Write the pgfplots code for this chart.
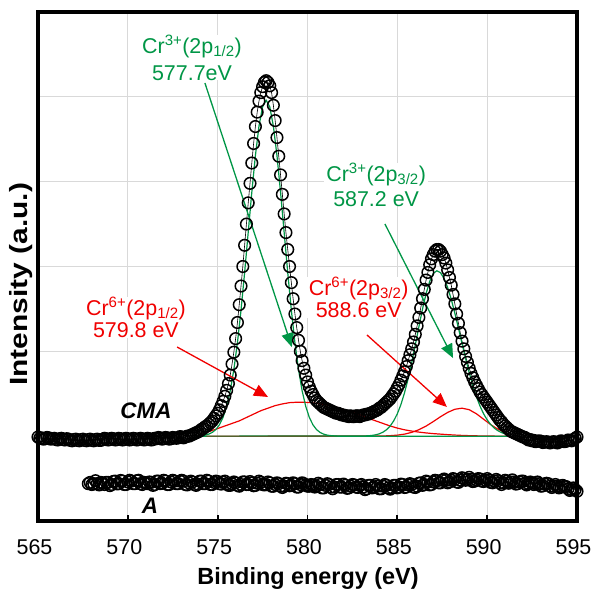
\documentclass[border=0pt]{standalone}
\usepackage{fontspec}
\setmainfont{Liberation Sans}
\usepackage{graphicx}
\usepackage{pgfplots}
\pgfplotsset{compat=1.18}
\usetikzlibrary{arrows.meta}
\definecolor{fitgreen}{RGB}{0,150,70}
\definecolor{fitred}{RGB}{240,0,0}
\begin{document}
\begin{tikzpicture}
\begin{axis}[
 scale only axis, width=539bp, height=509bp,
 xmin=565, xmax=595, ymin=0, ymax=6,
 xtick={565,570,...,595}, ytick={1,2,3,4,5}, yticklabels={},
 grid=major, major grid style={draw=black!15, line width=1.1bp},
 axis line style={line width=3bp},
 tick align=inside, xtick pos=bottom, major tick length=6bp,
 xtick style={line width=1.8bp, black},
 ytick style={draw=none},
 xticklabel style={font=\fontsize{21.5}{24}\selectfont, /pgf/number format/assume math mode=true, anchor=center, yshift=-26.5bp, xshift=-3.5bp},
 xlabel={Binding energy (eV)},
 xlabel style={font=\fontsize{23.5}{26}\selectfont\bfseries, at={(axis description cs:0.501,-0.112)}, anchor=center},
 ylabel={\scalebox{1.2}[1]{Intensity (a.u.)}},
 ylabel style={font=\fontsize{25}{28}\selectfont\bfseries, at={(axis description cs:-0.0316,0.465)}, anchor=center},
 clip=false,
]
% sample A
\addplot[black, line width=0.6bp, mark=o, mark size=5.8bp, mark options={line width=1.5bp}] table {
567.8 0.44
567.9 0.455
568.0 0.43
568.1 0.44
568.2 0.475
568.3 0.44
568.4 0.425
568.5 0.455
568.6 0.445
568.7 0.43
568.8 0.455
568.9 0.455
569.0 0.417
569.1 0.43
569.2 0.467
569.3 0.47
569.4 0.437
569.5 0.44
569.6 0.478
569.7 0.47
569.8 0.43
569.9 0.43
570.0 0.46
570.1 0.48
570.2 0.47
570.3 0.44
570.4 0.44
570.5 0.475
570.6 0.48
570.7 0.44
570.8 0.43
570.9 0.455
571.0 0.45
571.1 0.44
571.2 0.46
571.3 0.455
571.4 0.42
571.5 0.43
571.6 0.47
571.7 0.47
571.8 0.44
571.9 0.445
572.0 0.48
572.1 0.47
572.2 0.43
572.3 0.43
572.4 0.46
572.5 0.48
572.6 0.47
572.7 0.44
572.8 0.44
572.9 0.47
573.0 0.48
573.1 0.47
573.2 0.43
573.3 0.425
573.4 0.45
573.5 0.47
573.6 0.46
573.7 0.43
573.8 0.42
573.9 0.435
574.0 0.47
574.1 0.47
574.2 0.44
574.3 0.44
574.4 0.48
574.5 0.47
574.6 0.43
574.7 0.43
574.8 0.455
574.9 0.47
575.0 0.465
575.1 0.44
575.2 0.435
575.3 0.46
575.4 0.47
575.5 0.44
575.6 0.42
575.7 0.42
575.8 0.44
575.9 0.46
576.0 0.45
576.1 0.42
576.2 0.41
576.3 0.43
576.4 0.46
576.5 0.46
576.6 0.43
576.7 0.43
576.8 0.465
576.9 0.45
577.0 0.415
577.1 0.42
577.2 0.445
577.3 0.47
577.4 0.455
577.5 0.43
577.6 0.425
577.7 0.43
577.8 0.46
577.9 0.45
578.0 0.41
578.1 0.41
578.2 0.43
578.3 0.45
578.4 0.44
578.5 0.41
578.6 0.395
578.7 0.41
578.8 0.445
578.9 0.44
579.0 0.415
579.1 0.42
579.2 0.45
579.3 0.44
579.4 0.40
579.5 0.40
579.6 0.43
579.7 0.45
579.8 0.44
579.9 0.42
580.0 0.41
580.1 0.41
580.2 0.43
580.3 0.425
580.4 0.40
580.5 0.41
580.6 0.445
580.7 0.43
580.8 0.39
580.9 0.39
581.0 0.42
581.1 0.44
581.2 0.43
581.3 0.40
581.4 0.38
581.5 0.40
581.6 0.43
581.7 0.43
581.8 0.40
581.9 0.40
582.0 0.435
582.1 0.42
582.2 0.385
582.3 0.39
582.4 0.41
582.5 0.43
582.6 0.425
582.7 0.40
582.8 0.395
582.9 0.42
583.0 0.43
583.1 0.40
583.2 0.37
583.3 0.38
583.4 0.42
583.5 0.42
583.6 0.39
583.7 0.40
583.8 0.43
583.9 0.41
584.0 0.38
584.1 0.38
584.2 0.41
584.3 0.43
584.4 0.42
584.5 0.39
584.6 0.375
584.7 0.39
584.8 0.42
584.9 0.42
585.0 0.39
585.1 0.40
585.2 0.435
585.3 0.43
585.4 0.395
585.5 0.40
585.6 0.425
585.7 0.44
585.8 0.43
585.9 0.40
586.0 0.395
586.1 0.41
586.2 0.445
586.3 0.45
586.4 0.42
586.5 0.43
586.6 0.47
586.7 0.46
586.8 0.425
586.9 0.43
587.0 0.46
587.1 0.48
587.2 0.475
587.3 0.45
587.4 0.45
587.5 0.48
587.6 0.495
587.7 0.48
587.8 0.45
587.9 0.46
588.0 0.48
588.1 0.50
588.2 0.49
588.3 0.46
588.4 0.455
588.5 0.48
588.6 0.51
588.7 0.50
588.8 0.48
588.9 0.49
589.0 0.515
589.1 0.49
589.2 0.465
589.3 0.47
589.4 0.485
589.5 0.50
589.6 0.495
589.7 0.47
589.8 0.465
589.9 0.48
590.0 0.50
590.1 0.48
590.2 0.455
590.3 0.45
590.4 0.47
590.5 0.49
590.6 0.475
590.7 0.45
590.8 0.43
590.9 0.45
591.0 0.48
591.1 0.47
591.2 0.445
591.3 0.46
591.4 0.485
591.5 0.46
591.6 0.435
591.7 0.44
591.8 0.46
591.9 0.47
592.0 0.47
592.1 0.44
592.2 0.425
592.3 0.44
592.4 0.46
592.5 0.45
592.6 0.43
592.7 0.44
592.8 0.46
592.9 0.44
593.0 0.41
593.1 0.415
593.2 0.435
593.3 0.445
593.4 0.44
593.5 0.41
593.6 0.395
593.7 0.41
593.8 0.43
593.9 0.41
594.0 0.39
594.1 0.40
594.2 0.42
594.3 0.41
594.4 0.405
594.5 0.38
594.6 0.36
594.7 0.37
594.8 0.39
594.9 0.37
595.0 0.35
};
% sample CMA
\addplot[black, line width=0.6bp, mark=o, mark size=5.8bp, mark options={line width=1.5bp}] table {
565.0 0.99
565.1 0.975
565.2 0.98
565.3 0.965
565.4 0.97
565.5 0.985
565.6 0.98
565.7 0.965
565.8 0.97
565.9 0.975
566.0 0.96
566.1 0.955
566.2 0.97
566.3 0.975
566.4 0.96
566.5 0.955
566.6 0.97
566.7 0.965
566.8 0.95
566.9 0.945
567.0 0.96
567.1 0.965
567.2 0.95
567.3 0.945
567.4 0.96
567.5 0.965
567.6 0.95
567.7 0.945
567.8 0.96
567.9 0.965
568.0 0.95
568.1 0.945
568.2 0.96
568.3 0.965
568.4 0.95
568.5 0.95
568.6 0.96
568.7 0.975
568.8 0.97
568.9 0.955
569.0 0.96
569.1 0.975
569.2 0.97
569.3 0.955
569.4 0.96
569.5 0.975
569.6 0.97
569.7 0.955
569.8 0.96
569.9 0.975
570.0 0.97
570.1 0.955
570.2 0.96
570.3 0.975
570.4 0.97
570.5 0.955
570.6 0.96
570.7 0.975
570.8 0.97
570.9 0.955
571.0 0.96
571.1 0.975
571.2 0.97
571.3 0.955
571.4 0.96
571.5 0.975
571.6 0.97
571.7 0.985
571.8 0.98
571.9 0.965
572.0 0.97
572.1 0.985
572.2 0.98
572.3 0.965
572.4 0.97
572.5 0.985
572.6 0.98
572.7 0.975
572.8 0.98
572.9 0.995
573.0 0.99
573.1 0.98
573.2 0.99
573.3 1.00
573.4 1.00
573.5 1.01
573.6 1.02
573.7 1.03
573.8 1.04
573.9 1.05
574.0 1.06
574.1 1.08
574.2 1.09
574.3 1.11
574.4 1.12
574.5 1.14
574.6 1.16
574.7 1.18
574.8 1.21
574.9 1.24
575.0 1.27
575.1 1.31
575.2 1.36
575.3 1.41
575.4 1.47
575.5 1.54
575.6 1.62
575.7 1.72
575.8 1.85
575.9 1.99
576.0 2.15
576.1 2.34
576.2 2.55
576.3 2.77
576.4 3.00
576.5 3.25
576.6 3.50
576.7 3.75
576.8 3.98
576.9 4.22
577.0 4.45
577.1 4.65
577.2 4.82
577.3 4.95
577.4 5.05
577.5 5.12
577.6 5.17
577.7 5.19
577.8 5.17
577.9 5.13
578.0 5.05
578.1 4.90
578.2 4.72
578.3 4.52
578.4 4.30
578.5 4.08
578.6 3.85
578.7 3.62
578.8 3.40
578.9 3.20
579.0 3.00
579.1 2.81
579.2 2.62
579.3 2.44
579.4 2.28
579.5 2.13
579.6 2.00
579.7 1.89
579.8 1.80
579.9 1.72
580.0 1.64
580.1 1.58
580.2 1.53
580.3 1.49
580.4 1.45
580.5 1.42
580.6 1.40
580.7 1.38
580.8 1.36
580.9 1.34
581.0 1.33
581.1 1.32
581.2 1.31
581.3 1.30
581.4 1.29
581.5 1.28
581.6 1.27
581.7 1.27
581.8 1.26
581.9 1.25
582.0 1.25
582.1 1.24
582.2 1.24
582.3 1.23
582.4 1.24
582.5 1.23
582.6 1.23
582.7 1.24
582.8 1.24
582.9 1.23
583.0 1.24
583.1 1.25
583.2 1.25
583.3 1.26
583.4 1.26
583.5 1.27
583.6 1.28
583.7 1.29
583.8 1.30
583.9 1.31
584.0 1.33
584.1 1.34
584.2 1.36
584.3 1.38
584.4 1.40
584.5 1.42
584.6 1.44
584.7 1.47
584.8 1.50
584.9 1.53
585.0 1.57
585.1 1.61
585.2 1.66
585.3 1.71
585.4 1.76
585.5 1.82
585.6 1.89
585.7 1.96
585.8 2.03
585.9 2.11
586.0 2.20
586.1 2.30
586.2 2.40
586.3 2.51
586.4 2.62
586.5 2.73
586.6 2.84
586.7 2.93
586.8 3.02
586.9 3.09
587.0 3.14
587.1 3.18
587.2 3.20
587.3 3.20
587.4 3.18
587.5 3.14
587.6 3.10
587.7 3.04
587.8 2.96
587.9 2.87
588.0 2.78
588.1 2.67
588.2 2.56
588.3 2.44
588.4 2.33
588.5 2.22
588.6 2.12
588.7 2.03
588.8 1.94
588.9 1.87
589.0 1.80
589.1 1.74
589.2 1.69
589.3 1.64
589.4 1.60
589.5 1.56
589.6 1.52
589.7 1.49
589.8 1.46
589.9 1.43
590.0 1.40
590.1 1.37
590.2 1.34
590.3 1.31
590.4 1.28
590.5 1.25
590.6 1.22
590.7 1.19
590.8 1.17
590.9 1.14
591.0 1.12
591.1 1.10
591.2 1.08
591.3 1.06
591.4 1.05
591.5 1.04
591.6 1.03
591.7 1.02
591.8 1.01
591.9 1.00
592.0 0.99
592.1 0.985
592.2 0.97
592.3 0.955
592.4 0.96
592.5 0.945
592.6 0.95
592.7 0.935
592.8 0.94
592.9 0.945
593.0 0.94
593.1 0.925
593.2 0.93
593.3 0.935
593.4 0.93
593.5 0.92
593.6 0.93
593.7 0.935
593.8 0.93
593.9 0.92
594.0 0.93
594.1 0.945
594.2 0.94
594.3 0.935
594.4 0.94
594.5 0.955
594.6 0.95
594.7 0.945
594.8 0.96
594.9 0.975
595.0 0.99
};
% background line
\addplot[fitred, line width=1.2bp] coordinates {(573.8,1) (591.1,1)};
% Cr6+ 2p1/2
\addplot[fitred, line width=1.2bp] coordinates {
(573.8,1.00) (574.2,1.03) (574.6,1.06) (575.0,1.09) (575.4,1.12) (575.8,1.15) (576.2,1.18) (576.6,1.22) (577.0,1.26) (577.4,1.30) (577.8,1.33) (578.2,1.36) (578.6,1.38) (579.0,1.395) (579.4,1.40) (579.8,1.40) (580.2,1.395) (580.6,1.385) (581.0,1.37) (581.4,1.35) (581.8,1.33) (582.2,1.30) (582.6,1.275) (583.0,1.245) (583.4,1.21) (583.8,1.18) (584.2,1.15) (584.6,1.12) (585.0,1.095) (585.4,1.075) (585.8,1.06) (586.2,1.048) (586.6,1.038) (587.0,1.03) (587.4,1.024) (587.8,1.018) (588.2,1.013) (588.6,1.009) (589.0,1.006) (589.4,1.004) (589.8,1.002) (590.2,1.001) (591.1,1.000)
};
% Cr6+ 2p3/2
\addplot[fitred, line width=1.2bp] coordinates {
(573.8,1.000) (584.2,1.002) (584.6,1.006) (585.0,1.012) (585.4,1.024) (585.8,1.045) (586.2,1.076) (586.6,1.119) (587.0,1.172) (587.4,1.229) (587.8,1.280) (588.2,1.317) (588.6,1.330) (589.0,1.312) (589.4,1.264) (589.8,1.200) (590.2,1.136) (590.6,1.082) (591.0,1.045) (591.1,1.038)
};
% Cr3+ 2p1/2
\addplot[fitgreen, line width=1.2bp] coordinates {
(573.7,1.000) (573.9,1.003) (574.1,1.006) (574.3,1.012) (574.5,1.024) (574.7,1.044) (574.9,1.078) (575.1,1.135) (575.3,1.222) (575.5,1.352) (575.7,1.536) (575.9,1.784) (576.1,2.101) (576.3,2.486) (576.5,2.928) (576.7,3.402) (576.9,3.875) (577.1,4.308) (577.3,4.655) (577.5,4.882) (577.7,4.960) (577.9,4.882) (578.1,4.655) (578.3,4.308) (578.5,3.875) (578.7,3.402) (578.9,2.928) (579.1,2.486) (579.3,2.101) (579.5,1.784) (579.7,1.536) (579.9,1.352) (580.1,1.222) (580.3,1.135) (580.5,1.078) (580.7,1.044) (580.9,1.024) (581.1,1.012) (581.3,1.006) (581.5,1.003) (581.7,1.000) (591.1,1.000)
};
% Cr3+ 2p3/2
\addplot[fitgreen, line width=1.2bp] coordinates {
(573.8,1.000) (583.2,1.003) (583.4,1.005) (583.6,1.009) (583.8,1.016) (584.0,1.028) (584.2,1.047) (584.4,1.076) (584.6,1.119) (584.8,1.181) (585.0,1.264) (585.2,1.373) (585.4,1.511) (585.6,1.677) (585.8,1.867) (586.0,2.076) (586.2,2.290) (586.4,2.497) (586.6,2.680) (586.8,2.825) (587.0,2.918) (587.2,2.950) (587.4,2.927) (587.6,2.860) (587.8,2.753) (588.0,2.614) (588.2,2.450) (588.4,2.274) (588.6,2.092) (588.8,1.915) (589.0,1.748) (589.2,1.597) (589.4,1.466) (589.6,1.355) (589.8,1.264) (590.0,1.192) (590.2,1.136) (590.4,1.094) (590.6,1.064) (590.8,1.042) (591.0,1.027) (591.1,1.022)
};
% annotations
\tikzset{lab/.style={font=\fontsize{21.5}{24}\selectfont, fill=white, inner ysep=0pt, inner xsep=2bp, anchor=north, align=center}}
\node[lab, text=fitgreen, font=\fontsize{21.5}{27}\selectfont] at (axis cs:573.57,5.729) {Cr\textsuperscript{3+}(2p\textsubscript{1/2})\\577.7eV};
\node[lab, text=fitgreen, font=\fontsize{21.5}{25}\selectfont] at (axis cs:583.82,4.220) {Cr\textsuperscript{3+}(2p\textsubscript{3/2})\\587.2 eV};
\node[lab, text=fitred, font=\fontsize{21.5}{22.5}\selectfont] at (axis cs:570.45,2.640) {Cr\textsuperscript{6+}(2p\textsubscript{1/2})\\579.8 eV};
\node[lab, text=fitred, font=\fontsize{21.5}{22.5}\selectfont] at (axis cs:582.85,2.876) {Cr\textsuperscript{6+}(2p\textsubscript{3/2})\\588.6 eV};
\node[font=\fontsize{22.5}{24}\selectfont\bfseries\itshape, anchor=base] at (axis cs:571.01,1.211) {CMA};
\node[font=\fontsize{22.5}{24}\selectfont\bfseries\itshape, anchor=base] at (axis cs:571.23,0.091) {A};
\draw[fitgreen, line width=1.3bp, -{Triangle[length=14bp,width=12bp]}] (axis cs:574.29,5.163) -- (axis cs:579.13,2.05);
\draw[fitgreen, line width=1.3bp, -{Triangle[length=14bp,width=12bp]}] (axis cs:584.31,3.501) -- (axis cs:588.10,1.921);
\draw[fitred, line width=1.3bp, -{Triangle[length=14bp,width=12bp]}] (axis cs:572.74,2.051) -- (axis cs:577.80,1.462);
\draw[fitred, line width=1.3bp, -{Triangle[length=14bp,width=12bp]}] (axis cs:583.31,2.193) -- (axis cs:587.76,1.344);
\draw[black, line width=3.2bp] (rel axis cs:0,0) rectangle (rel axis cs:1,1);
\end{axis}
\path ([shift={(-38bp,-74bp)}]current axis.south west) rectangle ([shift={(15bp,12bp)}]current axis.north east);
\end{tikzpicture}
\end{document}
